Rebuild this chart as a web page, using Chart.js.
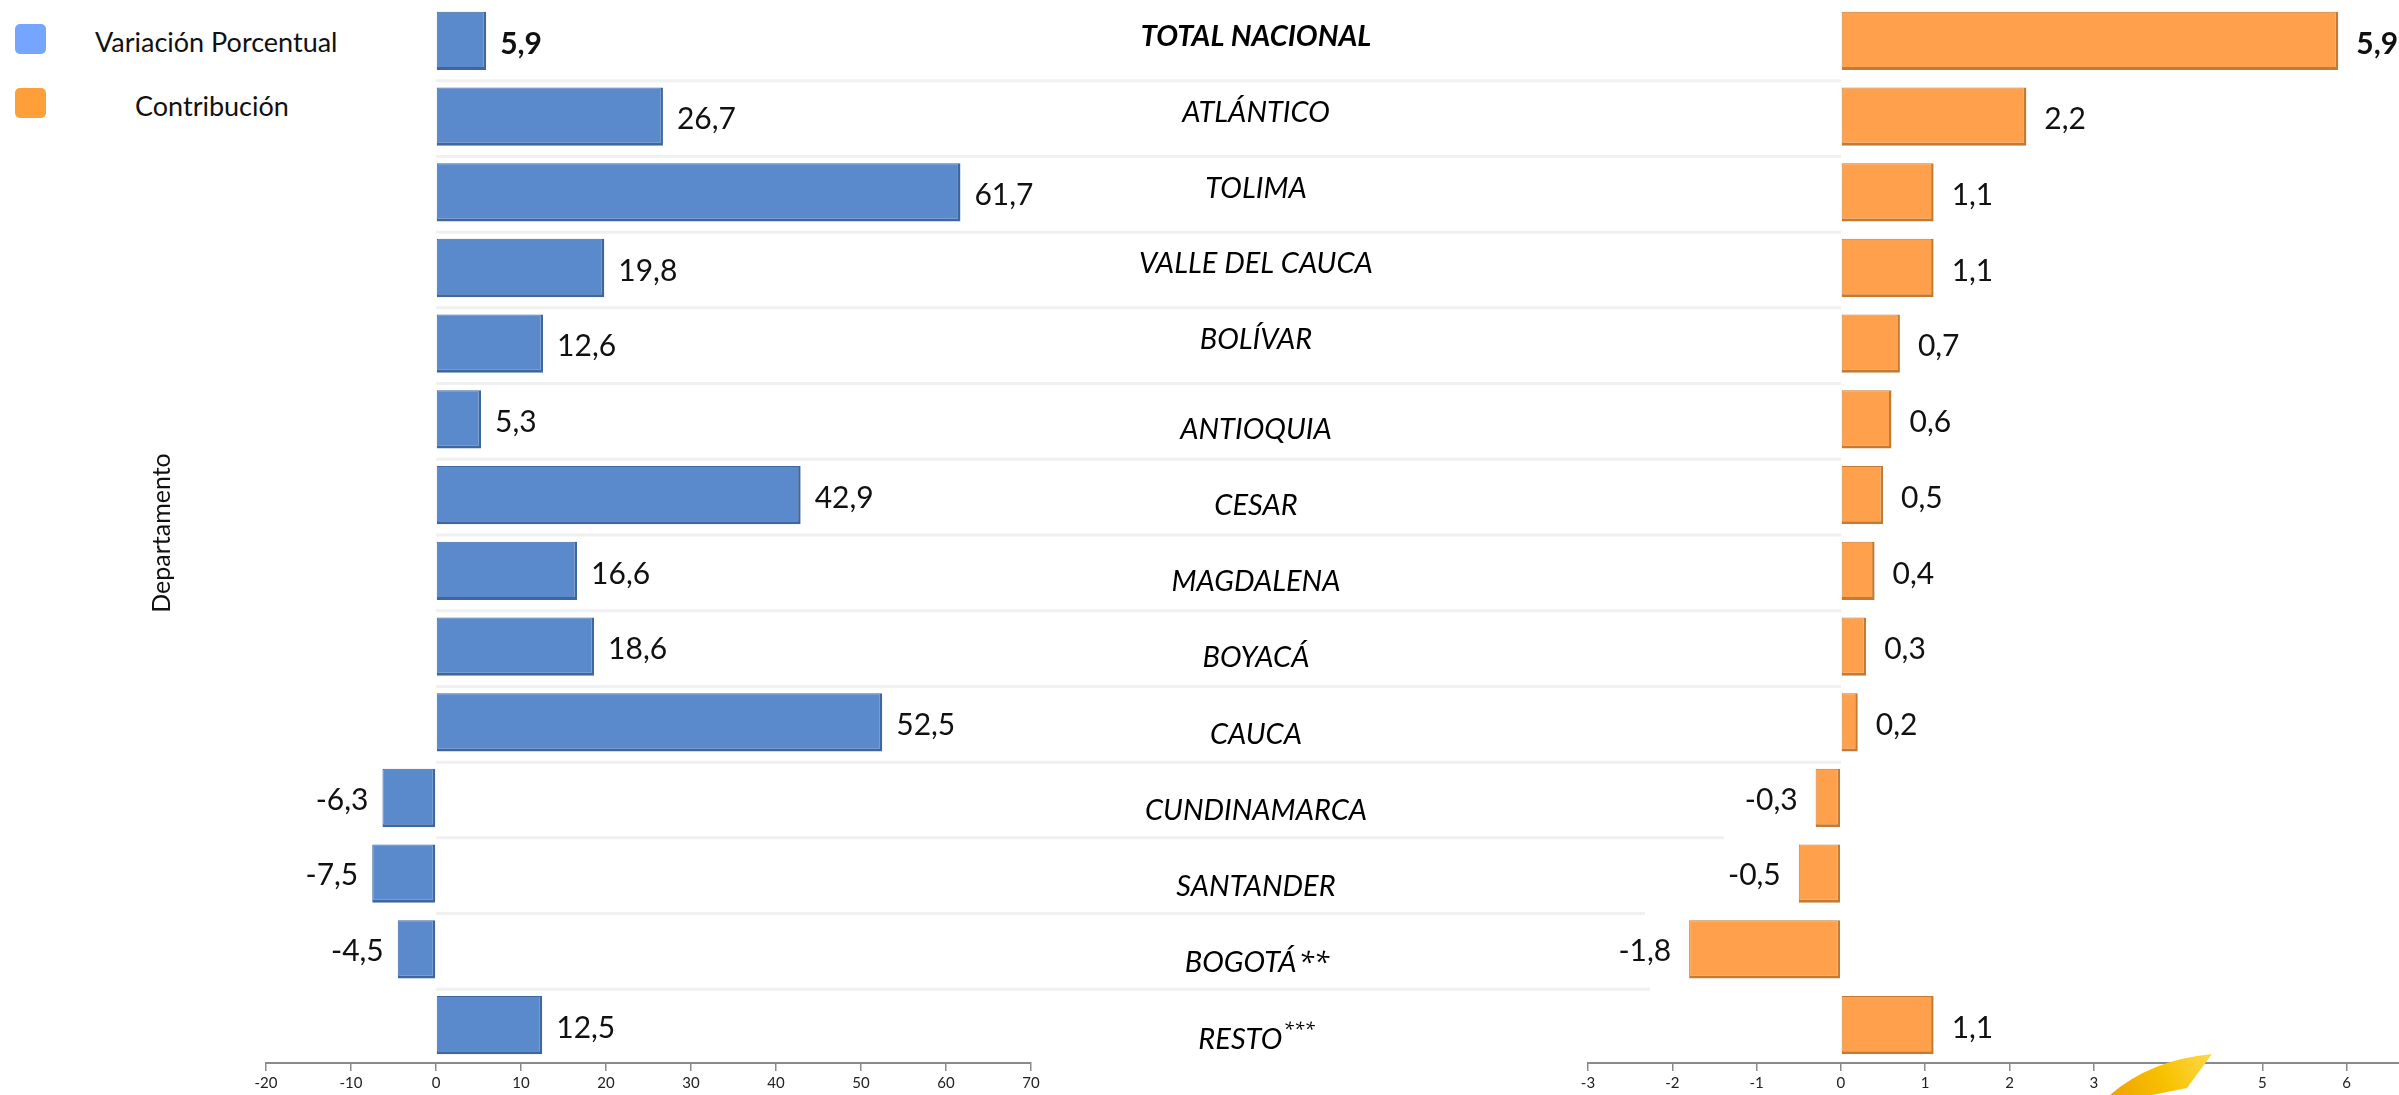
<!DOCTYPE html>
<html>
<head>
<meta charset="utf-8">
<script src="https://cdn.jsdelivr.net/npm/chart.js@4.4.1/dist/chart.umd.min.js"></script>
<style>
  html, body { margin:0; padding:0; background:#ffffff; width:2399px; height:1095px; overflow:hidden; position:relative; font-family: Lato, "Open Sans", sans-serif; }
  #c1 { position:absolute; left:0; top:0; }
  #c2 { position:absolute; left:1500px; top:0; }
  .leg { position:absolute; font-family: Lato, "Open Sans", sans-serif; font-size:27px; color:#111; white-space:nowrap; }
  .sw { position:absolute; width:31px; height:30px; border-radius:5px; }
</style>
</head>
<body>
<div class="sw" style="left:15px;top:24px;background:#75A5FF;"></div>
<div class="leg" style="left:95px;top:25px;">Variación Porcentual</div>
<div class="sw" style="left:15px;top:88px;background:#FF9F3A;"></div>
<div class="leg" style="left:135px;top:89px;">Contribución</div>
<canvas id="c1" width="1850" height="1095" style="width:1850px;height:1095px"></canvas>
<canvas id="c2" width="950" height="1095" style="width:950px;height:1095px"></canvas>
<script>
const categories = ['TOTAL NACIONAL','ATLÁNTICO','TOLIMA','VALLE DEL CAUCA','BOLÍVAR','ANTIOQUIA','CESAR','MAGDALENA','BOYACÁ','CAUCA','CUNDINAMARCA','SANTANDER','BOGOTÁ**','RESTO***'];
const variacion = [5.9, 26.7, 61.7, 19.8, 12.6, 5.3, 42.9, 16.6, 18.6, 52.5, -6.3, -7.5, -4.5, 12.5];
const contribucion = [5.9, 2.2, 1.1, 1.1, 0.7, 0.6, 0.5, 0.4, 0.3, 0.2, -0.3, -0.5, -1.8, 1.1];
const axisTitle = 'Departamento';
const leftRange = { min: -20, max: 70, step: 10 };
const rightRange = { min: -3, max: 7, step: 1 };

const FONT = 'Lato, "Open Sans", sans-serif';
const STARFONT = '"Open Sans", sans-serif';
const fmt = v => v.toFixed(1).replace('.', ',');

const valueLabels = {
  id: 'valueLabels',
  afterDatasetsDraw(chart, args, opts) {
    const ctx = chart.ctx;
    const meta = chart.getDatasetMeta(0);
    const vals = chart.data.datasets[0].data;
    ctx.save();
    ctx.fillStyle = '#111';
    ctx.textBaseline = 'middle';
    meta.data.forEach((el, i) => {
      const v = vals[i];
      ctx.font = (i === 0 ? 'bold ' : '') + '30px ' + FONT;
      if (v >= 0) { ctx.textAlign = 'left'; ctx.fillText(fmt(v), el.x + opts.gap, el.y + 3); }
      else { ctx.textAlign = 'right'; ctx.fillText(fmt(v), el.x - opts.gap, el.y + 2); }
    });
    ctx.restore();
  }
};

const middleLabels = {
  id: 'middleLabels',
  beforeDatasetsDraw(chart, args, opts) {
    const ctx = chart.ctx;
    const y = chart.scales.y;
    const x = chart.scales.x;
    ctx.save();
    ctx.strokeStyle = '#f0f0f0';
    ctx.lineWidth = 3;
    const x0 = x.getPixelForValue(0);
    for (let i = 1; i < categories.length; i++) {
      const yy = (y.getPixelForValue(i - 1) + y.getPixelForValue(i)) / 2 + 2;
      ctx.beginPath();
      ctx.moveTo(x0, yy);
      ctx.lineTo(opts.sepEnd[i] || 1841, yy);
      ctx.stroke();
    }
    ctx.restore();
  },
  afterDraw(chart, args, opts) {
    const ctx = chart.ctx;
    const y = chart.scales.y;
    ctx.save();
    ctx.fillStyle = '#000';
    ctx.textBaseline = 'middle';
    const NORMAL = 'italic 29px ' + FONT;
    categories.forEach((c, i) => {
      const yy = y.getPixelForValue(i) + (i < 5 ? -4 : 10 + (i - 5) * 0.5);
      const cx = opts.center;
      if (i === 0) {
        ctx.font = 'italic bold 29px ' + FONT;
        ctx.textAlign = 'center';
        ctx.fillText(c, cx, yy);
      } else if (c.endsWith('***')) {
        const base = c.slice(0, -3);
        ctx.font = NORMAL;
        const w1 = ctx.measureText(base).width;
        ctx.font = 'italic 19px ' + STARFONT;
        const w2 = ctx.measureText('***').width;
        const left = cx - (w1 + w2) / 2;
        ctx.textAlign = 'left';
        ctx.font = NORMAL;
        ctx.fillText(base, left, yy);
        ctx.font = 'italic 19px ' + STARFONT;
        ctx.fillText('***', left + w1 + 1, yy - 10);
      } else if (c.endsWith('**')) {
        const base = c.slice(0, -2);
        ctx.font = NORMAL;
        const w1 = ctx.measureText(base).width;
        ctx.font = 'italic 28px ' + STARFONT;
        const w2 = ctx.measureText('**').width;
        const left = cx - (w1 + w2) / 2;
        ctx.textAlign = 'left';
        ctx.font = NORMAL;
        ctx.fillText(base, left, yy);
        ctx.font = 'italic 28px ' + STARFONT;
        ctx.fillText('**', left + w1 + 2, yy + 1);
      } else {
        ctx.font = NORMAL;
        ctx.textAlign = 'center';
        ctx.fillText(c, cx, yy);
      }
    });
    ctx.translate(162, 533);
    ctx.rotate(-Math.PI / 2);
    ctx.font = '25px ' + FONT;
    ctx.textAlign = 'center';
    ctx.fillStyle = '#111';
    ctx.fillText(axisTitle, 0, 0);
    ctx.restore();
  }
};

const blob = {
  id: 'blob',
  afterDraw(chart) {
    const ctx = chart.ctx;
    ctx.save();
    const g = ctx.createLinearGradient(615, 1095, 712, 1055);
    g.addColorStop(0, '#F0A500');
    g.addColorStop(0.5, '#F7C200');
    g.addColorStop(1, '#FFD84A');
    ctx.fillStyle = g;
    ctx.beginPath();
    ctx.moveTo(610, 1095);
    ctx.quadraticCurveTo(650, 1060, 712, 1054);
    ctx.lineTo(687, 1088);
    ctx.lineTo(652, 1095);
    ctx.closePath();
    ctx.fill();
    ctx.restore();
  }
};

function xScale(r) {
  return {
    type: 'linear', min: r.min, max: r.max,
    ticks: { stepSize: r.step, color: '#222', font: { family: FONT, size: 15 }, padding: 3,
             callback: v => String(v) },
    grid: { drawOnChartArea: false, drawTicks: true, tickLength: 8, color: '#8a8a8a', lineWidth: 1.5 },
    border: { display: true, color: '#8a8a8a', width: 2 },
    afterFit: s => { s.height = 32; }
  };
}

function makeChart(id, data, color, border, range, padding, plugins, pluginOpts) {
  return new Chart(document.getElementById(id), {
    type: 'bar',
    data: {
      labels: categories,
      datasets: [{
        data: data,
        backgroundColor: color,
        borderColor: border,
        borderWidth: { top: 1, left: 1, right: 2.5, bottom: 3 },
        borderSkipped: false,
        barPercentage: 0.77,
        categoryPercentage: 1.0
      }]
    },
    options: {
      indexAxis: 'y',
      responsive: false,
      animation: false,
      layout: { padding: padding },
      plugins: Object.assign({ legend: { display: false }, tooltip: { enabled: false } }, pluginOpts),
      scales: {
        x: xScale(range),
        y: { type: 'category', display: false, offset: true }
      }
    },
    plugins: plugins
  });
}

makeChart('c1', variacion, '#5A8ACB', '#3F679F', leftRange,
  { left: 266, right: 819, top: 3, bottom: 0 },
  [middleLabels, valueLabels],
  { valueLabels: { gap: 14 }, middleLabels: { center: 1256, sepEnd: { 11: 1724, 12: 1645, 13: 1650 } } });

makeChart('c2', contribucion, '#FFA04C', '#C47A32', rightRange,
  { left: 88, right: 19, top: 3, bottom: 0 },
  [valueLabels, blob],
  { valueLabels: { gap: 18 } });
</script>
</body>
</html>
